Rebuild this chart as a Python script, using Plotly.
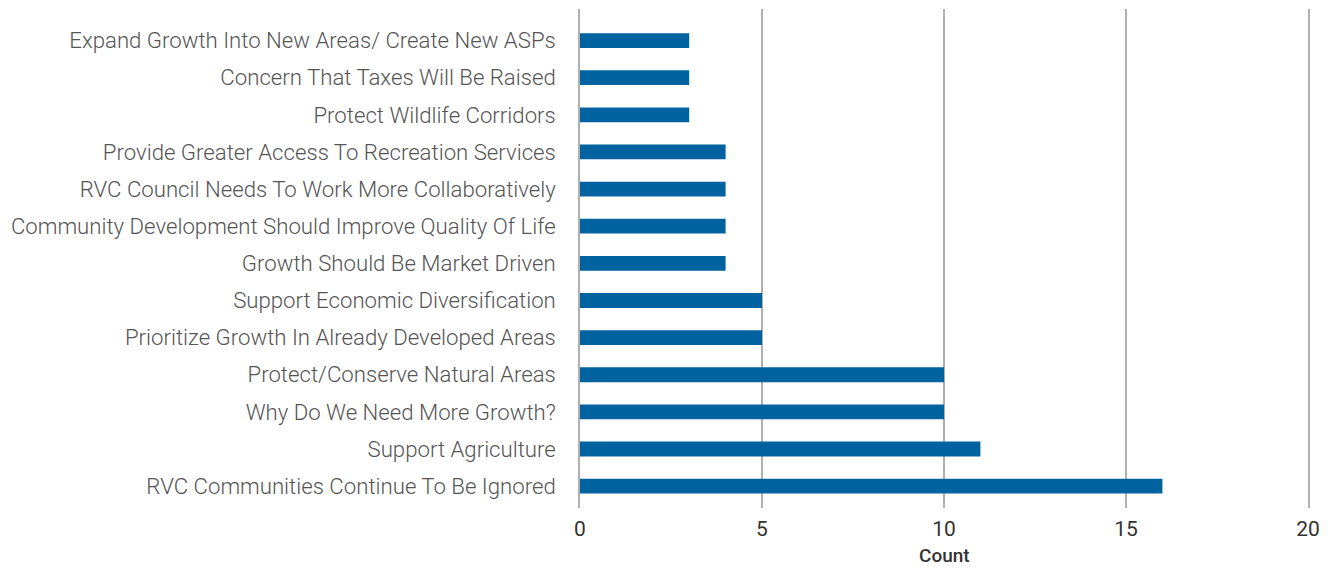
import plotly.graph_objects as go

categories = [
    "RVC Communities Continue To Be Ignored",
    "Support Agriculture",
    "Why Do We Need More Growth?",
    "Protect/Conserve Natural Areas",
    "Prioritize Growth In Already Developed Areas",
    "Support Economic Diversification",
    "Growth Should Be Market Driven",
    "Community Development Should Improve Quality Of Life",
    "RVC Council Needs To Work More Collaboratively",
    "Provide Greater Access To Recreation Services",
    "Protect Wildlife Corridors",
    "Concern That Taxes Will Be Raised",
    "Expand Growth Into New Areas/ Create New ASPs",
]
counts = [16, 11, 10, 10, 5, 5, 4, 4, 4, 4, 3, 3, 3]
x_ticks = [0, 5, 10, 15, 20]
x_title = "Count"

grid_color = "#b0b0b0"

fig = go.Figure(
    go.Bar(
        x=counts,
        y=categories,
        orientation="h",
        marker=dict(color="#0063a0", line=dict(width=0)),
        width=0.4,
    )
)

fig.update_layout(
    width=1335,
    height=569,
    margin=dict(l=580, r=27, t=9, b=61),
    plot_bgcolor="white",
    paper_bgcolor="white",
    showlegend=False,
)

fig.update_xaxes(
    range=[0, 20],
    tickvals=x_ticks,
    showgrid=True,
    gridcolor=grid_color,
    gridwidth=1.5,
    zeroline=False,
    showline=False,
    automargin=False,
    tickfont=dict(family="Roboto", size=21, color="#333333"),
    ticklabelstandoff=6,
)

# axis title placed as an annotation below the tick labels
fig.add_annotation(
    text=x_title,
    xref="paper", yref="paper",
    x=0.5, y=0,
    xanchor="center", yanchor="middle",
    yshift=-47,
    showarrow=False,
    font=dict(family="Roboto", size=19, color="#333333", weight=500),
)

# vertical lines at x = 0 and x = 20 come from the mirrored y axis line
fig.update_yaxes(
    type="category",
    range=[-0.59, 12.85],
    showgrid=False,
    zeroline=False,
    showline=True,
    mirror=True,
    linecolor=grid_color,
    linewidth=1.5,
    ticks="",
    automargin=False,
    tickfont=dict(family="Roboto", size=22.2, color="#555555", weight=300),
    ticklabelstandoff=18,
)

fig.write_html("out.html")
